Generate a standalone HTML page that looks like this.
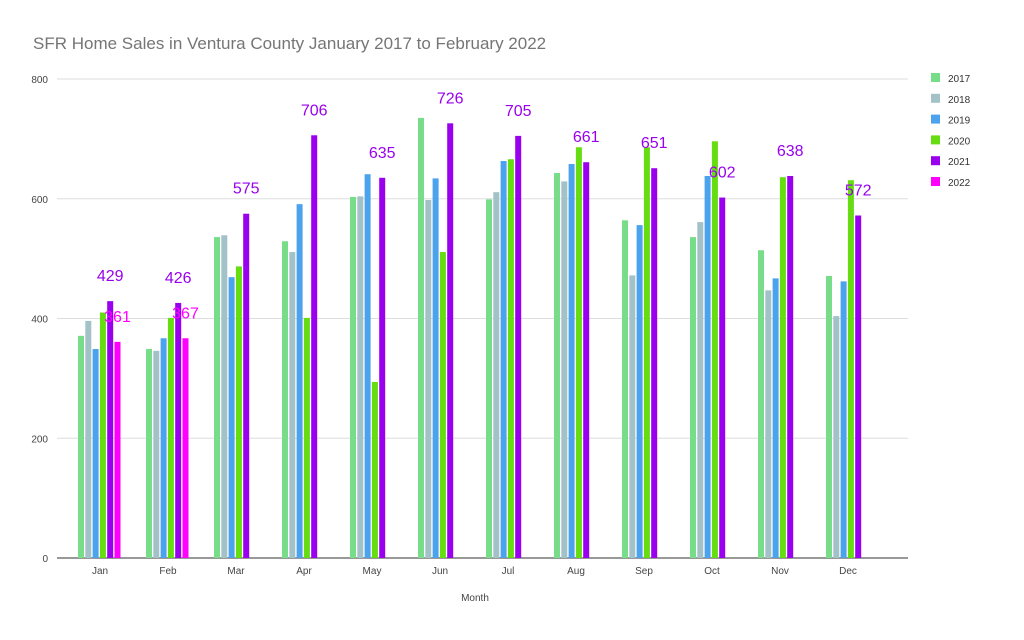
<!DOCTYPE html>
<html><head><meta charset="utf-8"><style>
body{margin:0;background:#fff;width:1024px;height:635px;overflow:hidden;font-family:"Liberation Sans",sans-serif}
svg text{font-family:"Liberation Sans",sans-serif}
</style></head><body>
<svg id="chart" width="1024" height="635">
<text x="33" y="49" font-size="17" fill="#757575">SFR Home Sales in Ventura County January 2017 to February 2022</text>
<g id="grid"></g><g id="bars"></g><g id="labels"></g><g id="legend"></g>
<text x="475" y="601" font-size="10" fill="#444" text-anchor="middle">Month</text>
</svg>
<script>
const months=["Jan","Feb","Mar","Apr","May","Jun","Jul","Aug","Sep","Oct","Nov","Dec"];
const years=["2017","2018","2019","2020","2021","2022"];
const s2017=[371,349,536,529,603,735,599,643,564,536,514,471];
const s2018=[396,346,539,511,604,598,611,629,472,561,447,404];
const s2019=[349,367,469,591,641,634,663,658,556,638,467,462];
const s2020=[410,401,487,401,294,511,666,686,686,696,636,631];
const s2021=[429,426,575,706,635,726,705,661,651,602,638,572];
const s2022=[361,367,null,null,null,null,null,null,null,null,null,null];
const yTicks=[0,200,400,600,800];
const series=[s2017,s2018,s2019,s2020,s2021,s2022];
const colors=["#77dd88","#a3c2c8","#4ba3ee","#66dd11","#9900ee","#ff00ff"];
const labeled=[false,false,false,false,true,true];
const NS="http://www.w3.org/2000/svg";
const x0=57,x1=908,y0=558,yTop=79,bandStart=66,bandW=68;
const y=v=>y0-(v/800)*(y0-yTop);
const bx=(m,s)=>bandStart+m*bandW+12+s*7.3;
function mk(t,a,p){const e=document.createElementNS(NS,t);for(const k in a)e.setAttribute(k,a[k]);p.appendChild(e);return e;}
const grid=document.getElementById('grid');
yTicks.forEach(t=>{
 const l=mk('line',{x1:x0,x2:x1,y1:y(t),y2:y(t),stroke:t===0?'#333':'#ddd','stroke-width':1},grid);
 
 
 const tx=mk('text',{x:48,y:y(t)+4,'font-size':10,fill:'#444','text-anchor':'end'},grid);
 tx.textContent=t;
 
 
});
months.forEach((m,i)=>{
 const tx=mk('text',{x:bandStart+i*bandW+34,y:574,'font-size':10,fill:'#444','text-anchor':'middle'},grid);
 tx.textContent=m;
 
 
});
const bars=document.getElementById('bars'),labels=document.getElementById('labels');
series.forEach((ser,s)=>{
 ser.forEach((v,i)=>{
  if(v==null)return;
  const r=mk('rect',{x:bx(i,s),y:y(v),width:6,height:y0-y(v),fill:colors[s]},bars);
  
  
  if(labeled[s]){
   const t=mk('text',{x:bx(i,s)+3,y:y(v)-20,'font-size':16,fill:colors[s],'text-anchor':'middle'},labels);
   t.textContent=v;
   
   
  }
 });
});
const lg=document.getElementById('legend');
years.forEach((yr,i)=>{
 const ly=78+i*20.8;
 const r=mk('rect',{x:931,y:ly-5,width:9,height:9,fill:colors[i]},lg);
 
 
 const t=mk('text',{x:948,y:ly+4,'font-size':10,fill:'#333'},lg);
 t.textContent=yr;
 
 
});
</script>
</body></html>
